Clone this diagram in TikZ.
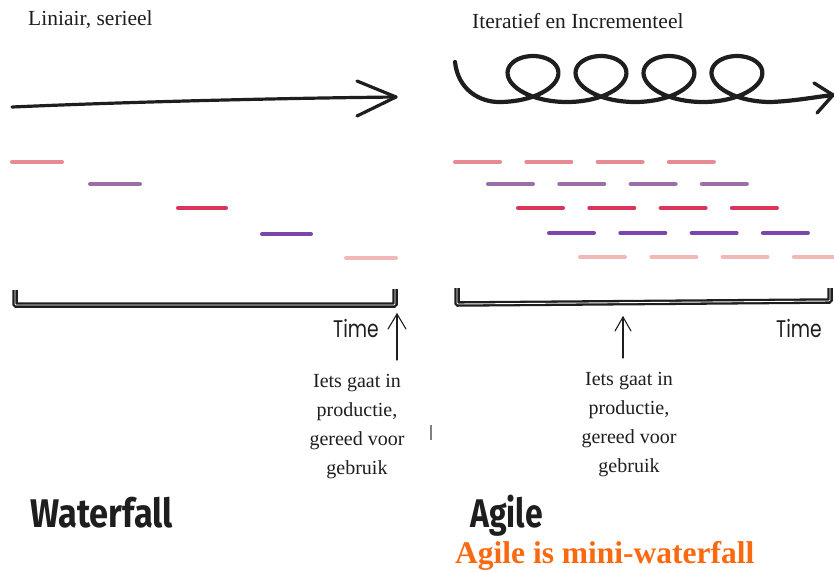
\documentclass[tikz,border=0pt]{standalone}
\usepackage{fontspec}
\setmainfont{Liberation Serif}
\newfontfamily\timefont{Poppins}
\newfontfamily\handfont{Fira Sans}
\definecolor{dashA}{RGB}{232,138,148}
\definecolor{dashB}{RGB}{155,110,168}
\definecolor{dashC}{RGB}{220,52,88}
\definecolor{dashD}{RGB}{122,70,170}
\definecolor{dashE}{RGB}{242,184,184}
\definecolor{inkdark}{RGB}{30,30,30}
\definecolor{orangetxt}{RGB}{250,105,15}
\begin{document}
\begin{tikzpicture}[x=1pt,y=-1pt,
  dashline/.style={line width=4pt, line cap=round},
  bracket/.style={draw=inkdark, line width=2.3pt, double=white, double distance=0.9pt, rounded corners=1pt},
  sketch/.style={draw=inkdark, line width=3.2pt, line cap=round, line join=round},
  spiral/.style={draw=inkdark, line width=4.2pt, line cap=round, line join=round},
  thinarrow/.style={draw=inkdark, line width=1.1pt, line cap=round, line join=round},
  serif/.style={inner sep=0pt, font=\fontsize{20}{29}\selectfont, text=inkdark},
  titletxt/.style={inner sep=0pt, font=\fontsize{21.5}{24}\selectfont, text=inkdark},
  timelbl/.style={inner sep=0pt, font=\timefont\fontsize{24}{24}\selectfont, text=inkdark},
  bigword/.style={inner sep=0pt, font=\handfont\bfseries\fontsize{40}{40}\selectfont, text=inkdark}]
\useasboundingbox (0,0) rectangle (834,571);

% titles
\node[titletxt, anchor=base west] (t1) at (28,25.5) {Liniair, serieel};
\node[titletxt, anchor=base west] (t2) at (472,28.5) {Iteratief en Incrementeel};

% waterfall arrow
\coordinate (wa0) at (12,107);
\coordinate (wa1) at (396,97);
\draw[sketch] (wa0) .. controls (150,101) and (300,98) .. (wa1);
\draw[sketch] (357,81) -- (wa1) -- (357,116);

% agile spiral
\coordinate (sp0) at (455,62);
\coordinate (spb) at (499,102);
\coordinate (sp1) at (833,95);
\draw[spiral] (sp0) .. controls (458,90) and (480,102) .. (spb)
  -- plot[domain=0:1440, samples=240, smooth] ({499+10.82*rad(\x)+41*sin(\x)}, {79+23*cos(\x)})
  .. controls (795,101) and (815,97) .. (sp1);
\draw[spiral, line width=3.4pt] (814,83) -- (sp1) -- (817,113);

% waterfall dashes
\draw[dashline, dashA] (12,162) -- (62,162);
\draw[dashline, dashB] (90,184) -- (140,184);
\draw[dashline, dashC] (178,208) -- (226,208);
\draw[dashline, dashD] (262,234) -- (311,234);
\draw[dashline, dashE] (346,258) -- (396,258);

% agile dashes
\foreach \i in {0,1,2,3}{
  \draw[dashline, dashA] ({455+71.3*\i},162) -- ({500+71.3*\i},162);
  \draw[dashline, dashB] ({488+71.3*\i},184) -- ({533+71.3*\i},184);
  \draw[dashline, dashC] ({518+71.3*\i},208) -- ({563+71.3*\i},208);
  \draw[dashline, dashD] ({549+71.3*\i},233) -- ({594+71.3*\i},233);
  \draw[dashline, dashE] ({580+71.3*\i},257) -- ({625+71.3*\i},257);
}

% brackets
\draw[bracket] (15,290) -- (15,305) -- (395,305) -- (395,289);
\draw[bracket] (457,288) -- (457,304) -- (830,301) -- (830,288);

% time labels
\node[timelbl, anchor=base west] (time1) at (333,337) {\scalebox{0.78}[1]{Time}};
\node[timelbl, anchor=base west] (time2) at (776,337) {\scalebox{0.78}[1]{Time}};

% production notes
\node[serif, align=center, anchor=north] (n1) at (357,374) {Iets gaat in\\productie,\\gereed voor\\gebruik};
\node[serif, align=center, anchor=north] (n2) at (629,372) {Iets gaat in\\productie,\\gereed voor\\gebruik};

\coordinate (a1s) at (397,360);
\coordinate (a1t) at (397,314);
\draw[thinarrow] (a1s) -- (a1t);
\draw[thinarrow] (388,329) -- (a1t) -- (406,329);
\coordinate (a2s) at (623,358);
\coordinate (a2t) at (623,317);
\draw[thinarrow] (a2s) -- (a2t);
\draw[thinarrow] (615,331) -- (a2t) -- (631,331);

% stray mark
\draw[draw=gray, line width=1.2pt] (431,425) -- (431,440);

% big labels
\node[bigword, anchor=base west] (wf) at (30,527) {\scalebox{0.86}[1]{Waterfall}};
\node[bigword, anchor=base west] (ag) at (470,527) {\scalebox{0.8}[1]{Agile}};
\node[inner sep=0pt, anchor=base west, text=orangetxt, font=\bfseries\fontsize{31.5}{31.5}\selectfont] (mini) at (455,563) {Agile is mini-waterfall};
\end{tikzpicture}
\end{document}
